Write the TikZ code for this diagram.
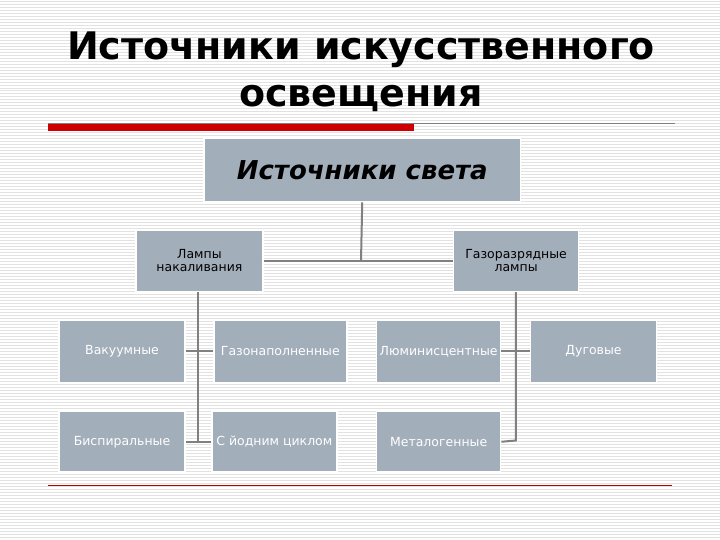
\documentclass[tikz,border=0pt]{standalone}
\usepackage{fontspec}
\setmainfont{DejaVu Sans}
\begin{document}
\begin{tikzpicture}[x=1pt,y=-1pt,
  box/.style={draw=white,line width=1.5pt,fill=boxc,inner sep=0pt,anchor=north west,font=\fontsize{12.5}{13}\selectfont,align=center},
  wbox/.style={box,text=white},
  conn/.style={draw=linec,line width=2pt}]
\definecolor{boxc}{HTML}{A3AEBB}
\definecolor{linec}{HTML}{808080}
\definecolor{stripe}{HTML}{E2E2E2}
\fill[white] (0,0) rectangle (720,540);
\foreach \i in {0,...,179} {\draw[stripe,line width=0.8pt] (0,\i*3+1) -- (720,\i*3+1);}
\useasboundingbox (0,0) rectangle (720,540);
\node[font=\bfseries\fontsize{38}{47}\selectfont,align=center] (title) at (361,72) {Источники искусственного\\освещения};
\draw[linec,line width=1pt] (48,124) -- (675,124);
\fill[red!80!black] (48,124) rectangle (414,131);
\draw[red!70!black,line width=0.6pt] (48,486) -- (672,486);
\node[box,minimum width=317,minimum height=63,font=\itshape\bfseries\fontsize{26}{30}\selectfont] (top) at (203,138) {Источники света};
\node[box,minimum width=127,minimum height=61] (inc) at (135,230) {Лампы\\накаливания};
\node[box,minimum width=125,minimum height=61] (gas) at (453,230) {Газоразрядные\\лампы};
\node[wbox,minimum width=126,minimum height=62] (vac) at (58,320) {Вакуумные};
\node[wbox,minimum width=133,minimum height=62] (gaz) at (213,320) {Газонаполненные};
\node[wbox,minimum width=124,minimum height=62] (lum) at (376,320) {Люминисцентные};
\node[wbox,minimum width=126,minimum height=62] (arc) at (530,320) {Дуговые};
\node[wbox,minimum width=126,minimum height=61] (bis) at (58,411) {Биспиральные};
\node[wbox,minimum width=125,minimum height=61] (iod) at (211,411) {С йодним циклом};
\node[wbox,minimum width=124,minimum height=61] (met) at (376,411) {Металогенные};
\coordinate (j) at (361,261);
\draw[conn] (top.south) -- (j);
\draw[conn] (inc.east) -- (gas.west);
\coordinate (a1) at (198,351); \coordinate (a2) at (198,441);
\draw[conn] (inc.south -| a1) -- (a2);
\draw[conn] (vac.east) -- (gaz.west);
\draw[conn] (bis.east) -- (iod.west);
\coordinate (b1) at (516,351); \coordinate (b2) at (516,441);
\draw[conn] (gas.south -| b1) -- (b2) -- (met.east);
\draw[conn] (lum.east) -- (arc.west);
\end{tikzpicture}
\end{document}
